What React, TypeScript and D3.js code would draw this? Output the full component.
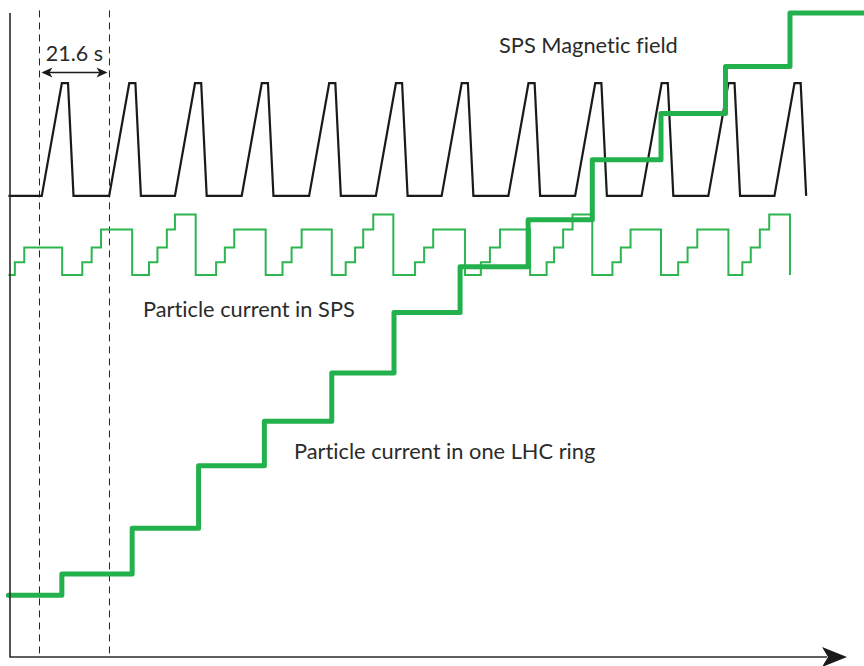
import * as d3 from "d3";
import { useEffect, useRef } from "react";

const WIDTH = 864;
const HEIGHT = 666;

// time axis (s) and arbitrary vertical units
const timeDomain = [0, 258.3];
const levelDomain = [0, 100];

// SPS magnetic field: start of each ramp (s)
const magCycleStarts = [9.8, 30.6, 50.9, 71.5, 92.3, 112.9, 133.2, 153.8, 174.4, 194.9, 215.5, 235.9];
// shape of one cycle: time offset from ramp start (s) and field level
const magShapeOffsets = [0, 6.2, 8.1, 9.8];
const magShapeLevels = [71.6, 89.1, 89.1, 71.6];
const magBaseLevel = 71.6;

// particle current in SPS: injection times per cycle and extraction time
const spsInjections = [
    [1.5, 4.4],
    [22.3, 25.2, 28.1],
    [42.9, 45.5, 48.4, 50.9],
    [63.6, 66.3, 69.2],
    [84.1, 86.9, 90.0],
    [103.6, 106.5, 109.0, 112.1],
    [125.0, 127.8, 130.6],
    [145.3, 148.1, 151.2],
    [165.6, 167.9, 170.7, 173.6],
    [185.9, 188.5, 191.5],
    [206.2, 209.1, 212.1],
    [226.0, 228.6, 231.4, 234.3],
];
const spsExtractions = [16.1, 37.7, 57.3, 78.9, 99.3, 118.3, 140.4, 160.5, 179.7, 200.9, 221.7, 240.7];
// current level after n batches
const spsLevels = [59.3, 61.3, 63.6, 66.4, 68.7];

// particle current in one LHC ring
const lhcTimes = [-0.5, 16.0, 37.7, 58.2, 78.5, 99.3, 118.5, 138.9, 159.9, 179.7, 200.9, 220.8, 240.7, 263.5];
const lhcLevels = [9.6, 12.9, 20.0, 29.7, 36.6, 44.1, 53.5, 60.6, 67.9, 77.2, 84.4, 91.7, 100, 100];

// period markers
const markerTimes = [9.1, 30.7];
const periodLabel = "21.6 s";

const labelTexts = ["SPS Magnetic field", "Particle current in SPS", "Particle current in one LHC ring"];

const lineStart = -0.5;
const GREEN = "#22b14c";
const FONT = "Lato, 'Noto Sans', sans-serif";

export default function App() {
    const svgRef = useRef<SVGSVGElement | null>(null);

    useEffect(() => {
        if (!svgRef.current) return;
        const svg = d3.select(svgRef.current);
        svg.selectAll("*").remove();

        const x = d3.scaleLinear().domain(timeDomain).range([10, 847]);
        const y = d3.scaleLinear().domain(levelDomain).range([657, 13]);

        // dashed period markers
        svg.selectAll(".marker")
            .data(markerTimes)
            .enter()
            .append("line")
            .attr("x1", d => x(d))
            .attr("x2", d => x(d))
            .attr("y1", y(100.4))
            .attr("y2", y(0))
            .attr("stroke", "#222")
            .attr("stroke-width", 1)
            .attr("stroke-dasharray", "7,5");

        // magnetic field
        const magPoints: [number, number][] = [[lineStart, magBaseLevel]];
        magCycleStarts.forEach(s => {
            magShapeOffsets.forEach((o, i) => magPoints.push([s + o, magShapeLevels[i]]));
        });
        const lin = d3.line<[number, number]>().x(d => x(d[0])).y(d => y(d[1]));
        svg.append("path")
            .attr("d", lin(magPoints))
            .attr("fill", "none")
            .attr("stroke", "#1a1a1a")
            .attr("stroke-width", 2.2)
            .attr("stroke-linejoin", "miter");

        // SPS current
        const spsPoints: [number, number][] = [[lineStart, spsLevels[0]]];
        spsInjections.forEach((inj, c) => {
            inj.forEach((t, i) => spsPoints.push([t, spsLevels[i + 1]]));
            spsPoints.push([spsExtractions[c], spsLevels[0]]);
        });
        const step = d3.line<[number, number]>()
            .x(d => x(d[0]))
            .y(d => y(d[1]))
            .curve(d3.curveStepAfter);
        svg.append("path")
            .attr("d", step(spsPoints))
            .attr("fill", "none")
            .attr("stroke", "#2db54f")
            .attr("stroke-width", 2);

        // LHC ring current
        const lhcPoints = lhcTimes.map((t, i) => [t, lhcLevels[i]] as [number, number]);
        svg.append("path")
            .attr("d", step(lhcPoints))
            .attr("fill", "none")
            .attr("stroke", GREEN)
            .attr("stroke-width", 5)
            .attr("stroke-linejoin", "round")
            .attr("stroke-linecap", "round");

        // axes
        const axisColor = "#2a2a2a";
        svg.append("line")
            .attr("x1", x(0)).attr("x2", x(0))
            .attr("y1", y(100)).attr("y2", y(0) + 0.5)
            .attr("stroke", axisColor).attr("stroke-width", 1.6);
        svg.append("line")
            .attr("x1", x(0)).attr("x2", x(timeDomain[1]) - 20)
            .attr("y1", y(0)).attr("y2", y(0))
            .attr("stroke", axisColor).attr("stroke-width", 1.6);
        const tipX = x(timeDomain[1]);
        const ay = y(0);
        svg.append("path")
            .attr("d", `M${tipX},${ay} L${tipX - 25},${ay - 10} L${tipX - 19},${ay} L${tipX - 25},${ay + 10} Z`)
            .attr("fill", "#1a1a1a");

        // period annotation
        const ax1 = x(markerTimes[0]) + 2;
        const ax2 = x(markerTimes[1]) - 2;
        const annY = 72.5;
        svg.append("line")
            .attr("x1", ax1 + 3).attr("x2", ax2 - 3)
            .attr("y1", annY).attr("y2", annY)
            .attr("stroke", "#1a1a1a").attr("stroke-width", 1.3);
        [[ax1, 1], [ax2, -1]].forEach(([px, dir]) => {
            svg.append("path")
                .attr("d", `M${px},${annY} L${px + dir * 11},${annY - 5} L${px + dir * 8},${annY} L${px + dir * 11},${annY + 5} Z`)
                .attr("fill", "#1a1a1a");
        });
        svg.append("text")
            .attr("x", (x(markerTimes[0]) + x(markerTimes[1])) / 2)
            .attr("y", 61)
            .attr("text-anchor", "middle")
            .style("font-family", FONT)
            .style("font-size", "21.5px")
            .style("fill", "#2b2b2b")
            .text(periodLabel);

        // labels
        const labelPos = [
            { x: 499, y: 52.5 },
            { x: 143, y: 316.5 },
            { x: 294, y: 459 },
        ];
        svg.selectAll(".label")
            .data(labelTexts)
            .enter()
            .append("text")
            .attr("class", "label")
            .attr("x", (d, i) => labelPos[i].x)
            .attr("y", (d, i) => labelPos[i].y)
            .style("font-family", FONT)
            .style("font-size", "21.8px")
            .style("font-variant-ligatures", "none")
            .style("fill", "#2b2b2b")
            .text(d => d);
    }, []);

    return (
        <svg
            ref={svgRef}
            width={WIDTH}
            height={HEIGHT}
            style={{ position: "absolute", left: 0, top: 0, display: "block", background: "#fff" }}
        />
    );
}
